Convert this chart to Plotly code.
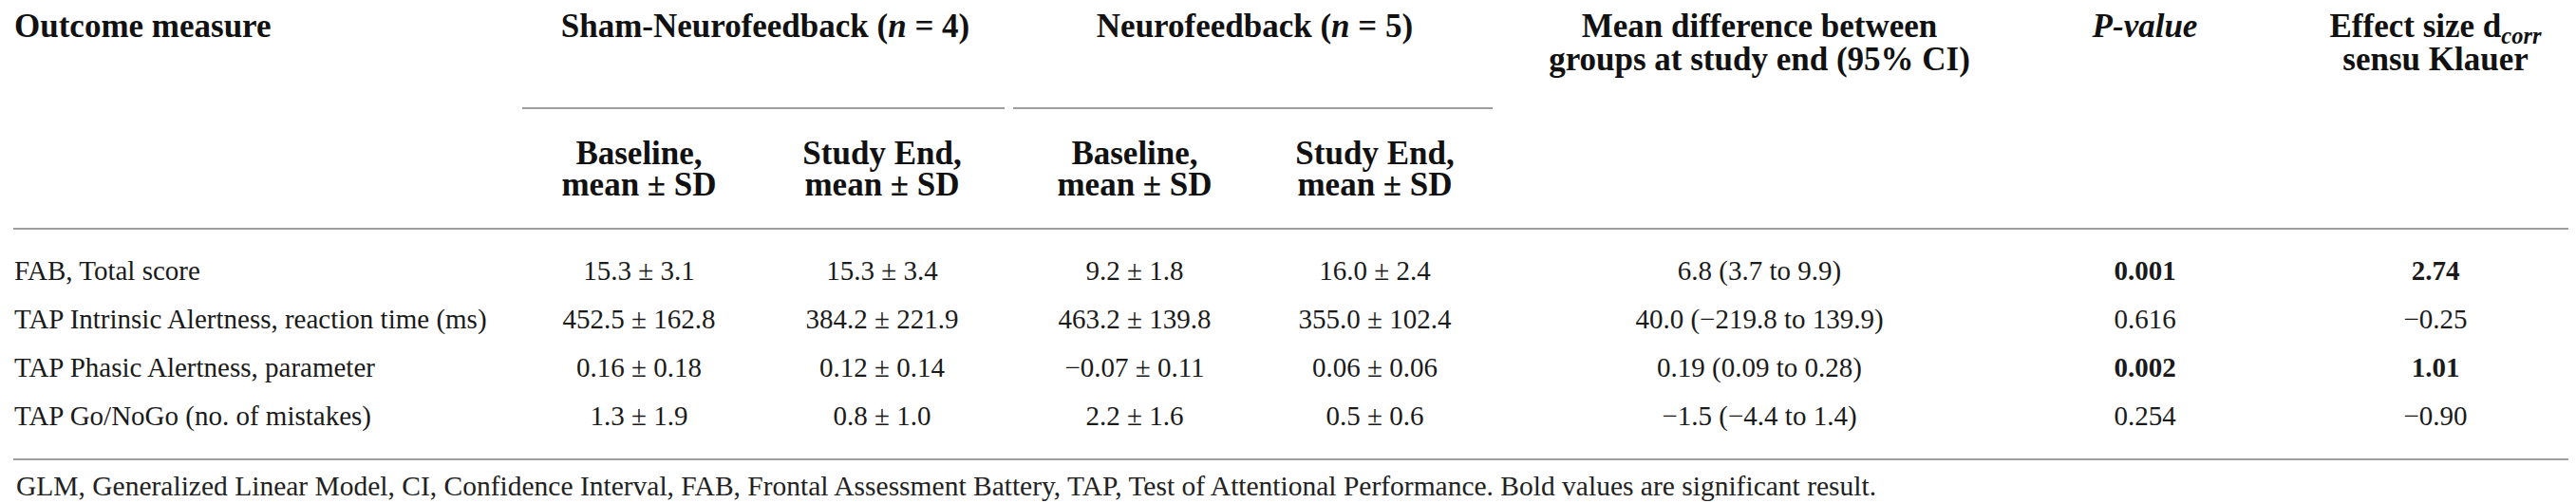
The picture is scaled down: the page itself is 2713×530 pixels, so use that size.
import plotly.graph_objects as go

# ---------------- data ----------------
outcomes = [
    "FAB, Total score",
    "TAP Intrinsic Alertness, reaction time (ms)",
    "TAP Phasic Alertness, parameter",
    "TAP Go/NoGo (no. of mistakes)",
]
decimals = [1, 1, 2, 1]
sham_base_mean = [15.3, 452.5, 0.16, 1.3]
sham_base_sd = [3.1, 162.8, 0.18, 1.9]
sham_end_mean = [15.3, 384.2, 0.12, 0.8]
sham_end_sd = [3.4, 221.9, 0.14, 1.0]
nf_base_mean = [9.2, 463.2, -0.07, 2.2]
nf_base_sd = [1.8, 139.8, 0.11, 1.6]
nf_end_mean = [16.0, 355.0, 0.06, 0.5]
nf_end_sd = [2.4, 102.4, 0.06, 0.6]
mean_diff = [6.8, 40.0, 0.19, -1.5]
ci_low = [3.7, -219.8, 0.09, -4.4]
ci_high = [9.9, 139.9, 0.28, 1.4]
p_values = [0.001, 0.616, 0.002, 0.254]
effect_size = [2.74, -0.25, 1.01, -0.90]

header_group = ["<b>Sham-Neurofeedback (<i>n</i> = 4)</b>", "<b>Neurofeedback (<i>n</i> = 5)</b>"]
footnote = ("GLM, Generalized Linear Model, CI, Confidence Interval, FAB, Frontal Assessment Battery, "
            "TAP, Test of Attentional Performance. Bold values are significant result.")

# ---------------- layout constants ----------------
W, H = 2713, 530
col_label_x = 7
col_x = [665, 921, 1187, 1440, 1845, 2251, 2557]
row_y = [280, 331, 382, 433]
BODY = dict(family="Liberation Serif", size=29, color="#1a1a1a")
HEAD = dict(family="Liberation Serif", size=35, color="#111111")
FOOT = dict(family="Liberation Serif", size=29.5, color="#222222")
RULE = "#9e9e9e"


def fmt(v, d):
    return f"{v:.{d}f}".replace("-", "\u2212")


def msd(means, sds):
    return [f"{fmt(m, d)} \u00b1 {fmt(s, d)}" for m, s, d in zip(means, sds, decimals)]


def bold_if(txt, sig):
    return f"<b>{txt}</b>" if sig else txt


sig = [p < 0.05 for p in p_values]
columns = [
    msd(sham_base_mean, sham_base_sd),
    msd(sham_end_mean, sham_end_sd),
    msd(nf_base_mean, nf_base_sd),
    msd(nf_end_mean, nf_end_sd),
    [f"{fmt(m, d)} ({fmt(lo, d)} to {fmt(hi, d)})" for m, lo, hi, d in zip(mean_diff, ci_low, ci_high, [1, 1, 2, 1])],
    [bold_if(f"{p:.3f}", s) for p, s in zip(p_values, sig)],
    [bold_if(fmt(e, 2), s) for e, s in zip(effect_size, sig)],
]

fig = go.Figure()


def text_trace(xs, ys, texts, font, pos="middle center"):
    fig.add_trace(go.Scatter(
        x=xs, y=ys, text=texts, mode="text", textposition=pos, textfont=font,
        hoverinfo="skip", showlegend=False, cliponaxis=False,
    ))


# body
text_trace([col_label_x] * len(outcomes), row_y, outcomes, BODY, "middle right")
for cx, vals in zip(col_x, columns):
    text_trace([cx] * len(vals), row_y, vals, BODY)

# headers
H1, H2 = 22, 57
text_trace([col_label_x], [H1], ["<b>Outcome measure</b>"], HEAD, "middle right")
grp_x = [(col_x[0] + col_x[1]) / 2 + 5, (col_x[2] + col_x[3]) / 2]
text_trace(grp_x, [H1, H1], header_group, HEAD)
sub_x = col_x[:4]
text_trace(sub_x, [156] * 4, ["<b>Baseline,</b>", "<b>Study End,</b>", "<b>Baseline,</b>", "<b>Study End,</b>"], HEAD)
text_trace(sub_x, [189] * 4, ["<b>mean \u00b1 SD</b>"] * 4, HEAD)
text_trace([col_x[4], col_x[4]], [H1, H2], ["<b>Mean difference between</b>", "<b>groups at study end (95% CI)</b>"], HEAD)
text_trace([col_x[5]], [H1], ["<b><i>P-value</i></b>"], HEAD)
text_trace([col_x[6], col_x[6]], [H1, H2], ["<b>Effect size d<sub><i>corr</i></sub></b>", "<b>sensu Klauer</b>"], HEAD)

# footnote
text_trace([9], [507], [footnote], FOOT, "middle right")

# rules
shapes = [
    dict(type="line", x0=542, x1=1050, y0=106, y1=106),
    dict(type="line", x0=1059, x1=1564, y0=106, y1=106),
    dict(type="line", x0=6, x1=2706, y0=233, y1=233),
    dict(type="line", x0=6, x1=2706, y0=476, y1=476),
]
for s in shapes:
    s.update(xref="x", yref="y", line=dict(color=RULE, width=2))

fig.update_layout(
    width=W, height=H, margin=dict(l=0, r=0, t=0, b=0),
    paper_bgcolor="white", plot_bgcolor="white", shapes=shapes,
    xaxis=dict(range=[0, W], visible=False, fixedrange=True),
    yaxis=dict(range=[H, 0], visible=False, fixedrange=True),
)
fig.write_html("out.html")
